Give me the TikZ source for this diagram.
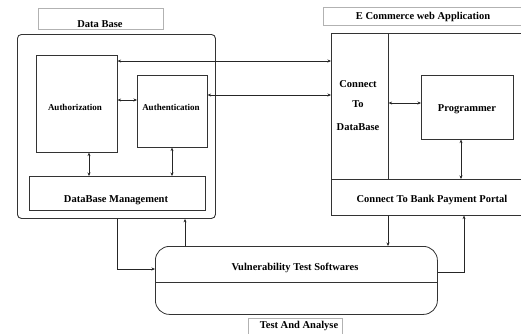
\documentclass[tikz,border=0pt]{standalone}
\usepackage{fontspec}
\setmainfont{Liberation Serif}
\usetikzlibrary{arrows.meta}
\begin{document}
\begin{tikzpicture}[x=1pt,y=-1pt,
  box/.style={draw=black!80,line width=0.6pt,inner sep=0pt,anchor=north west},
  lbl/.style={font=\bfseries\fontsize{10.5}{12}\selectfont,inner sep=0pt,anchor=base},
  sml/.style={font=\bfseries\fontsize{9}{11}\selectfont,inner sep=0pt,anchor=base},
  tag/.style={draw=black!30,line width=0.8pt,inner sep=0pt,anchor=north west},
  link/.style={draw=black!85,line width=0.6pt,-{Stealth[length=3.5pt,width=3pt]}},
  dlink/.style={draw=black!85,line width=0.6pt,{Stealth[length=3.5pt,width=3pt]}-{Stealth[length=3.5pt,width=3pt]}}]
\useasboundingbox (0,0) rectangle (521,333);
\clip (0,0) rectangle (521,333);
% Data Base group
\node[tag,minimum width=125pt,minimum height=21pt] (dbtag) at (38,8) {};
\node[lbl] (dbtagtxt) at (100,27) {Data Base};
\node[box,line width=0.9pt,rounded corners=4pt,minimum width=198pt,minimum height=184pt] (db) at (17,34) {};
\node[box,minimum width=81pt,minimum height=97pt] (authz) at (36,55) {};
\node[sml] (authztxt) at (75,110) {Authorization};
\node[box,minimum width=70pt,minimum height=72pt] (authn) at (137,75) {};
\node[sml] (authntxt) at (171,110) {Authentication};
\node[box,minimum width=176pt,minimum height=34pt] (dbm) at (29,176) {};
\node[lbl] (dbmtxt) at (116,202) {DataBase Management};
% E commerce group
\node[tag,minimum width=210pt,minimum height=18pt] (ectag) at (323,7) {};
\node[lbl] (ectagtxt) at (423,19) {E Commerce web Application};
\node[box,line width=0.9pt,minimum width=210pt,minimum height=182pt] (ecom) at (331,33) {};
\node[box,minimum width=57pt,minimum height=146pt] (conn) at (331,33) {};
\node[lbl] (c1) at (358,87) {Connect};
\node[lbl] (c2) at (358,107) {To};
\node[lbl] (c3) at (358,130) {DataBase};
\node[box,minimum width=92pt,minimum height=64pt] (prog) at (421,75) {};
\node[lbl] (progtxt) at (467,111) {Programmer};
\node[box,minimum width=210pt,minimum height=36pt] (bank) at (331,179) {};
\node[lbl] (banktxt) at (432,202) {Connect To Bank Payment Portal};
% Vulnerability
\node[box,line width=0.8pt,rounded corners=14pt,minimum width=282pt,minimum height=68pt] (vuln) at (155,246) {};
\draw[draw=black!80,line width=0.6pt] (vuln.west |- 0,282) -- (vuln.east |- 0,282);
\node[lbl] (vulntxt) at (295,270) {Vulnerability Test Softwares};
\node[tag,minimum width=94pt,minimum height=25pt] (testtag) at (248,318) {};
\node[lbl] (testtxt) at (299,328) {Test And Analyse};
% connectors
\draw[dlink] (authz.east |- 0,61) -- (conn.west |- 0,61);
\draw[dlink] (authn.east |- 0,95) -- (conn.west |- 0,95);
\draw[dlink] (authz.east |- 0,100) -- (authn.west |- 0,100);
\draw[dlink] (authz.south -| 89,0) -- (dbm.north -| 89,0);
\draw[dlink] (authn.south -| 172,0) -- (dbm.north -| 172,0);
\draw[dlink] (conn.east |- 0,103) -- (prog.west |- 0,103);
\draw[dlink] (prog.south -| 461,0) -- (bank.north -| 461,0);
\draw[link] (db.south -| 117,0) |- (vuln.west |- 0,269);
\draw[link] (vuln.north -| 185,0) -- (db.south -| 185,0);
\draw[link] (bank.south -| 388,0) -- (vuln.north -| 388,0);
\draw[link] (vuln.east |- 0,272) -| (bank.south -| 464,0);
\end{tikzpicture}
\end{document}
